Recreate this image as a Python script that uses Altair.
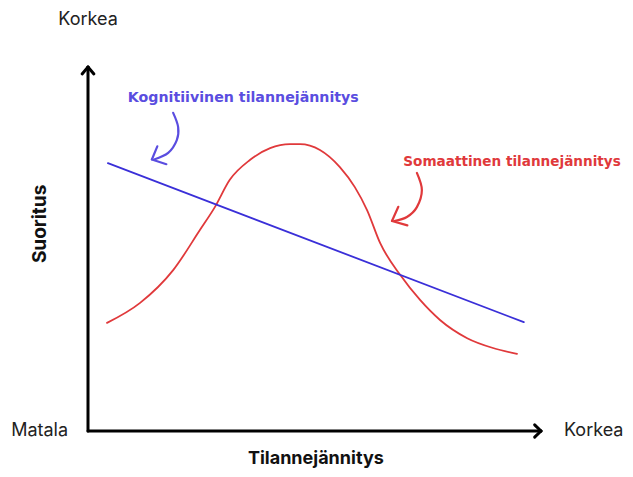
import altair as alt
import pandas as pd

# ---- data (abstract units: tension 0..100, performance 0..100) ----
cog_x = [4.4, 96.2]
cog_y = [73.6, 29.9]

som_x = [4.2, 11.5, 18.8, 24.7, 28.0, 31.3, 35.8, 40.2, 44.6, 46.8, 51.2, 55.6,
         58.9, 61.6, 64.5, 68.9, 73.3, 77.7, 83.7, 89.4, 94.7]
som_y = [29.7, 35.2, 44.2, 55.2, 61.5, 69.0, 74.5, 77.7, 78.8, 78.8, 77.2, 72.5,
         67.0, 60.7, 51.6, 42.9, 36.0, 30.5, 25.5, 22.8, 21.2]

# curly pointer arrows
blue_ptr_x = [18.8, 19.9, 19.6, 17.7, 14.6]
blue_ptr_y = [87.4, 83.5, 79.9, 76.4, 74.6]
red_ptr_x = [72.6, 73.7, 72.6, 70.4, 67.6]
red_ptr_y = [70.9, 66.2, 61.5, 58.8, 57.7]

# arrow head arms: (x, y) -> (x2, y2)
blue_head = dict(x=[14.1, 14.1], y=[74.6, 74.6], x2=[15.3, 17.3], y2=[78.2, 73.3])
red_head = dict(x=[67.1, 67.1], y=[57.7, 57.7], x2=[68.5, 70.5], y2=[61.6, 56.5])

# axes
axis_seg = dict(x=[0, 0], y=[0, 0], x2=[0, 100], y2=[100, 0])
axis_heads = dict(x=[0, 0, 100, 100], y=[100, 100, 0, 0],
                  x2=[-1.3, 1.3, 98.6, 98.6], y2=[98.1, 98.1, 1.7, -1.7])

# labels
end_labels = ["Korkea", "Matala", "Korkea"]
end_x = [0, -4.4, 118.2]
end_y = [112.9, 0, 0]
end_align = ["center", "right", "right"]

x_title = "Tilannejännitys"
y_title = "Suoritus"
cog_label = "Kognitiivinen tilannejännitys"
som_label = "Somaattinen tilannejännitys"

BLUE_LINE = "#3a2fd8"
BLUE_TEXT = "#5a4de0"
RED = "#e0393b"
FONT = "Inter"
LABEL_FONT = "DejaVu Sans"

xs = alt.Scale(domain=[-17.66, 118.54], nice=False, zero=False)
ys = alt.Scale(domain=[-10.44, 116.21], nice=False, zero=False)

def X(f="x"):
    return alt.X(f"{f}:Q", scale=xs, axis=None)

def Y(f="y"):
    return alt.Y(f"{f}:Q", scale=ys, axis=None)

def segs(d, color, width):
    return alt.Chart(pd.DataFrame(d)).mark_rule(
        color=color, strokeWidth=width, strokeCap="round"
    ).encode(x=X(), y=Y(), x2="x2:Q", y2="y2:Q")

def path(xv, yv, color, width, interp):
    df = pd.DataFrame({"x": xv, "y": yv, "o": list(range(len(xv)))})
    return alt.Chart(df).mark_line(
        color=color, strokeWidth=width, interpolate=interp, strokeCap="round"
    ).encode(x=X(), y=Y(), order="o:Q")

axes = segs(axis_seg, "#000000", 3)
heads = segs(axis_heads, "#000000", 3)

cog = path(cog_x, cog_y, BLUE_LINE, 1.8, "linear")
som = path(som_x, som_y, RED, 1.8, "monotone")

bptr = path(blue_ptr_x, blue_ptr_y, BLUE_TEXT, 2.2, "cardinal")
rptr = path(red_ptr_x, red_ptr_y, RED, 2.2, "cardinal")
bhead = segs(blue_head, BLUE_TEXT, 2.2)
rhead = segs(red_head, RED, 2.2)

ends_df = pd.DataFrame({"x": end_x, "y": end_y, "t": end_labels, "a": end_align})
ends = []
for a in ["center", "right"]:
    ends.append(
        alt.Chart(ends_df[ends_df.a == a]).mark_text(
            font=FONT, fontSize=18, align=a, baseline="middle", color="#222222"
        ).encode(x=X(), y=Y(), text="t:N")
    )

xt = alt.Chart(pd.DataFrame({"x": [50.3], "y": [-10.2], "t": [x_title]})).mark_text(
    font=FONT, fontSize=18, fontWeight="bold", align="center", baseline="bottom", color="#111111"
).encode(x=X(), y=Y(), text="t:N")

yt = alt.Chart(pd.DataFrame({"x": [-10.6], "y": [56.9], "t": [y_title]})).mark_text(
    font=FONT, fontSize=19, fontWeight="bold", align="center", baseline="middle",
    angle=270, color="#111111"
).encode(x=X(), y=Y(), text="t:N")

cl = alt.Chart(pd.DataFrame({"x": [8.8], "y": [91.5], "t": [cog_label]})).mark_text(
    font=LABEL_FONT, fontSize=14.2, fontWeight="bold", align="left", baseline="middle", color=BLUE_TEXT
).encode(x=X(), y=Y(), text="t:N")

sl = alt.Chart(pd.DataFrame({"x": [69.6], "y": [73.9], "t": [som_label]})).mark_text(
    font=LABEL_FONT, fontSize=13.6, fontWeight="bold", align="left", baseline="middle", color=RED
).encode(x=X(), y=Y(), text="t:N")

chart = alt.layer(
    axes, heads, som, cog, bptr, rptr, bhead, rhead, *ends, xt, yt, cl, sl
).properties(
    width=617, height=461, autosize=alt.AutoSizeParams(type="none"), padding=0
).configure_view(stroke=None)

chart.save("out.html", embed_options={"renderer": "svg", "actions": False})
